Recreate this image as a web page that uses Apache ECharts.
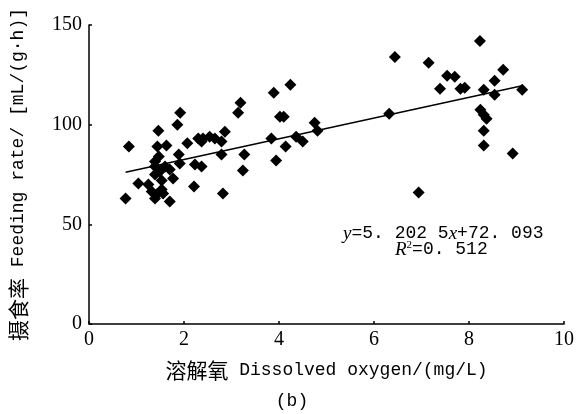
<!DOCTYPE html>
<html>
<head>
<meta charset="utf-8">
<title>摄食率与溶解氧</title>
<script src="https://cdn.jsdelivr.net/npm/echarts@6/dist/echarts.min.js"></script>
<style>
html,body{margin:0;padding:0;background:#fff;}
#main{width:584px;height:414px;}
</style>
</head>
<body>
<div id="main"></div>
<script type="text/javascript">
// 溶解氧 (mg/L)
var doVals = [0.77,0.84,1.04,1.25,1.32,1.39,1.42,1.56,1.70,1.39,1.49,1.39,1.60,1.77,1.39,1.47,1.44,1.63,1.46,1.86,
              1.92,1.89,1.91,2.07,2.21,2.23,2.37,2.30,2.37,2.54,2.40,2.65,2.79,2.86,2.79,2.82,3.14,3.19,3.24,3.27,
              3.84,3.89,3.94,4.02,4.10,4.14,4.24,4.36,4.50,4.75,4.81,6.32,6.44,6.94,7.15,7.39,7.54,7.70,7.82,7.91,
              8.23,8.24,8.31,8.37,8.31,8.31,8.31,8.54,8.54,8.72,8.92,9.12,1.53,1.53,1.70];
// 摄食率 mL/(g·h)
var rateVals = [63,89,70.5,70,66.5,63,65,65.5,61.5,75,76.5,79,79,73,81.5,84,89,89.5,97,100,
                106,85,80.5,90.7,69,80,79,93,91.5,94,93,93,91.5,96.5,85,65.5,106,111,77,85,
                93,116,82,104,104,89,120,94,91.5,101,97,105.5,134,66,131,118,124.5,124,118,118.5,
                142,107.5,105,103,117.5,97,89.5,122,115,127.5,85.5,117.5,67.5,72,77.5];
// 回归系数
var slope = 5.2025, intercept = 72.093;
var xTicks = [0, 2, 4, 6, 8, 10];
var yTicks = [0, 50, 100, 150];

var points = [];
for (var i = 0; i < doVals.length; i++) {
	points.push([doVals[i], rateVals[i]]);
}
var xMin = Math.min.apply(null, doVals), xMax = Math.max.apply(null, doVals);
var fitLine = [[xMin, slope * xMin + intercept], [xMax, slope * xMax + intercept]];

var myChart = echarts.init(document.getElementById('main'));
var serifNum = 'Liberation Serif';
var mono = 'Liberation Mono';
var cjk = 'Noto Sans CJK SC';

var option = {
	animation: false,
	backgroundColor: '#fff',
	title: {
		text: '(b)',
		left: 'center',
		top: 387,
		textStyle: {fontFamily: mono, fontSize: 18, fontWeight: 'normal', color: '#000'}
	},
	grid: {left: 87, right: 20, top: 25, bottom: 90},
	xAxis: {
		type: 'value',
		min: xTicks[0], max: xTicks[xTicks.length - 1], interval: 2,
		name: '{cn|溶解氧}{en| Dissolved oxygen/(mg/L)}',
		nameLocation: 'middle', nameGap: 36,
		nameTextStyle: {
			rich: {
				cn: {fontFamily: cjk, fontSize: 21, color: '#000'},
				en: {fontFamily: mono, fontSize: 18, color: '#000'}
			}
		},
		axisLine: {lineStyle: {color: '#000', width: 1.5}},
		axisTick: {inside: true, length: 3, lineStyle: {color: '#000', width: 1.5}},
		axisLabel: {fontFamily: serifNum, fontSize: 20, color: '#000', margin: 6},
		splitLine: {show: false}
	},
	yAxis: {
		type: 'value',
		min: yTicks[0], max: yTicks[yTicks.length - 1], interval: 50,
		name: '{cn|摄食率}{en| Feeding rate/ [mL/(g·h)]}',
		nameLocation: 'middle', nameGap: 60, nameRotate: 90,
		nameTextStyle: {
			rich: {
				cn: {fontFamily: cjk, fontSize: 21, color: '#000'},
				en: {fontFamily: mono, fontSize: 18, color: '#000'}
			}
		},
		axisLine: {show: true, lineStyle: {color: '#000', width: 1.5}},
		axisTick: {show: true, inside: true, length: 3, lineStyle: {color: '#000', width: 1.5}},
		axisLabel: {fontFamily: serifNum, fontSize: 20, color: '#000', margin: 7},
		splitLine: {show: false}
	},
	graphic: [
		{
			type: 'text', left: 343, top: 224,
			style: {
				text: '{i|y}{n|=5. 202 5}{i|x}{n|+72. 093}',
				rich: {
					i: {fontFamily: serifNum, fontStyle: 'italic', fontSize: 19, fill: '#000'},
					n: {fontFamily: mono, fontSize: 18, fill: '#000'}
				}
			}
		},
		{
			type: 'text', left: 395, top: 240,
			style: {
				text: '{i|R}{s|2}{n|=0. 512}',
				rich: {
					i: {fontFamily: serifNum, fontStyle: 'italic', fontSize: 19, fill: '#000'},
					s: {fontFamily: serifNum, fontSize: 11, fill: '#000', verticalAlign: 'top', padding: [0, 0, 8, 0]},
					n: {fontFamily: mono, fontSize: 18, fill: '#000'}
				}
			}
		}
	],
	series: [
		{
			type: 'scatter',
			symbol: 'diamond',
			symbolSize: 12,
			itemStyle: {color: '#000', opacity: 1},
			data: points,
			z: 3
		},
		{
			type: 'line',
			data: fitLine,
			showSymbol: false,
			symbol: 'none',
			lineStyle: {color: '#000', width: 1.5},
			z: 2
		}
	]
};
myChart.setOption(option);
</script>
</body>
</html>
